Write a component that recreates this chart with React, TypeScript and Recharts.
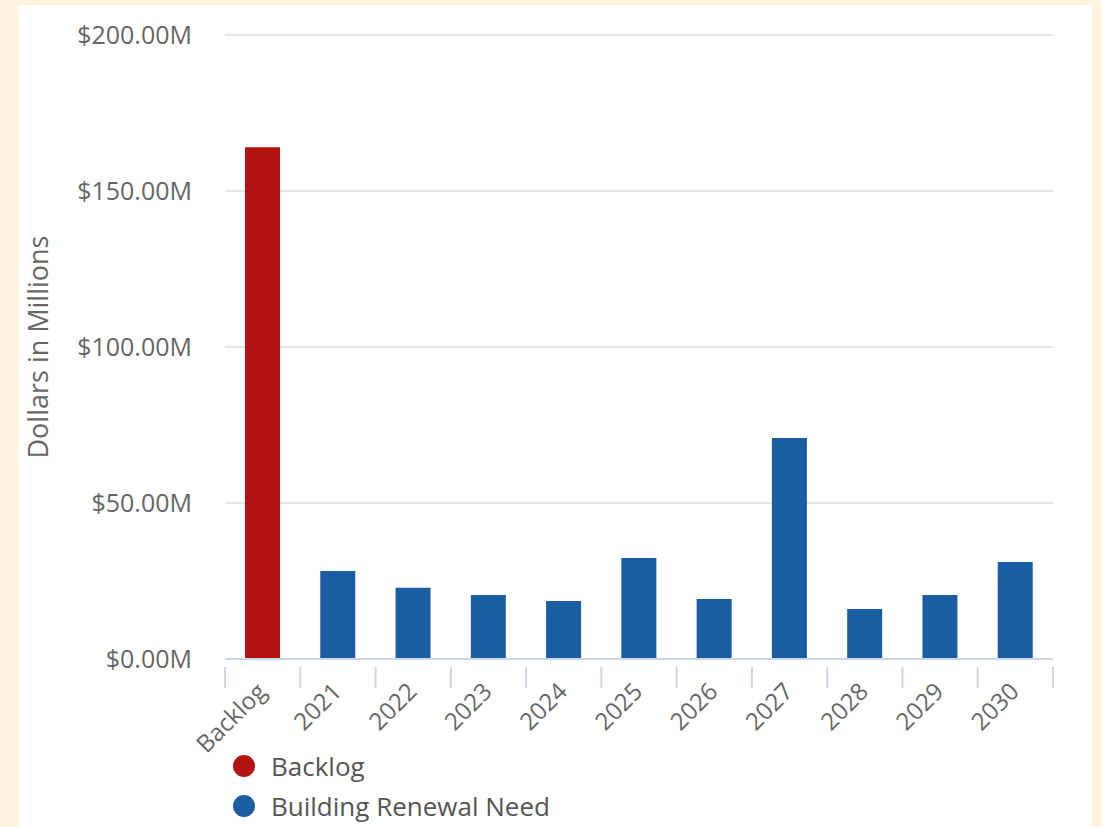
import { BarChart, Bar, XAxis, YAxis, CartesianGrid, Legend } from "recharts";

const categories = ["Backlog", "2021", "2022", "2023", "2024", "2025", "2026", "2027", "2028", "2029", "2030"];
const backlogValues = [164, null, null, null, null, null, null, null, null, null, null];
const renewalValues = [null, 28.2, 22.8, 20.5, 18.6, 32.4, 19.2, 70.8, 16.0, 20.5, 31.1];
const yTicks = [0, 50, 100, 150, 200];

const data = categories.map((name, i) => ({
  name,
  backlog: backlogValues[i],
  renewal: renewalValues[i],
}));

const W = 1101;
const H = 827;
const margin = { top: 35, right: 48, bottom: 8, left: 0 };
const yAxisWidth = 225;
const plotWidth = W - margin.left - margin.right - yAxisWidth;
const step = plotWidth / categories.length;

const font = "'Open Sans', sans-serif";

const XTick = (props: any) => {
  const { x, y, payload, index } = props;
  const last = index === categories.length - 1;
  const tx = x + 5;
  const ty = y + 26;
  return (
    <g>
      <line x1={x - step / 2} x2={x - step / 2} y1={y} y2={y + 21} stroke="#ccd6eb" strokeWidth={2} />
      {last && <line x1={x + step / 2} x2={x + step / 2} y1={y} y2={y + 21} stroke="#ccd6eb" strokeWidth={2} />}
      <text
        x={tx}
        y={ty}
        transform={`rotate(-45 ${tx} ${ty})`}
        textAnchor="end"
        fill="#666"
        fontSize={24}
        fontFamily={font}
      >
        {payload.value}
      </text>
    </g>
  );
};

const LegendContent = (props: any) => {
  const items = props.payload || [];
  return (
    <div style={{ fontFamily: font }}>
      {items.map((it: any) => (
        <div key={it.value} style={{ display: "flex", alignItems: "center", height: 40 }}>
          <span
            style={{
              display: "inline-block",
              width: 22,
              height: 22,
              borderRadius: "50%",
              background: it.color,
              marginRight: 16,
            }}
          />
          <span style={{ fontSize: 26, color: "#555" }}>{it.value}</span>
        </div>
      ))}
    </div>
  );
};

export default function App() {
  return (
    <div style={{ position: "absolute", left: 0, top: 0, width: W, height: H, background: "#fef4de", overflow: "hidden" }}>
      <div style={{ position: "absolute", left: 19, top: 5, width: 1073, height: 830, background: "#fff" }} />
      <div style={{ position: "absolute", left: 0, top: 0 }}>
        <BarChart width={W} height={H} data={data} margin={margin}>
          <CartesianGrid vertical={false} stroke="#e6e6e6" strokeWidth={2} />
          <XAxis
            dataKey="name"
            interval={0}
            tickLine={false}
            axisLine={{ stroke: "#ccd6eb", strokeWidth: 2 }}
            tick={<XTick />}
            height={80}
          />
          <YAxis
            width={yAxisWidth}
            domain={[0, 200]}
            ticks={yTicks}
            axisLine={false}
            tickLine={false}
            tickSize={0}
            tickMargin={33}
            tickFormatter={(v: number) => `$${v.toFixed(2)}M`}
            tick={{ fill: "#666", fontSize: 25, fontFamily: font }}
            label={{
              value: "Dollars in Millions",
              angle: -90,
              position: "insideLeft",
              offset: 38,
              style: { textAnchor: "middle", fill: "#666", fontSize: 27, fontFamily: font },
            }}
          />
          <Legend
            content={<LegendContent />}
            wrapperStyle={{ position: "absolute", left: 233, top: 746, width: 420, height: 80 }}
          />
          <Bar dataKey="backlog" name="Backlog" stackId="a" fill="#b51212" barSize={35} isAnimationActive={false} />
          <Bar dataKey="renewal" name="Building Renewal Need" stackId="a" fill="#1b5da3" barSize={35} isAnimationActive={false} />
        </BarChart>
      </div>
    </div>
  );
}
